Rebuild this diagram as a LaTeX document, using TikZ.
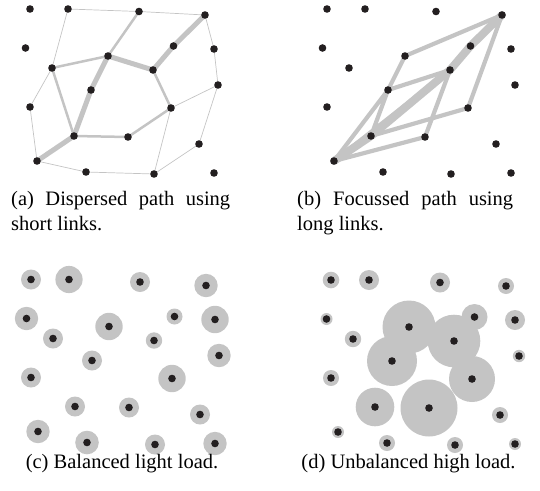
\documentclass[tikz,border=0pt]{standalone}
\usepackage{fontspec}
\setmainfont{Liberation Serif}
\definecolor{linkgray}{RGB}{196,196,196}
\definecolor{dotblack}{RGB}{35,31,32}
% site / x / y / load radius in (c) / load radius in (d)
\newcommand{\sitelist}{1/30/9/10/8.3, 2/68/9/13.6/10, 3/139/11.5/10/10,
  4/205/15/11.7/8, 5/25.5/48/11.7/6, 6/173.5/46/8/13, 7/214/49/13.7/10,
  8/108/56/13.7/26.5, 9/52/68/10/8.2, 10/153/70/8.2/26.3, 11/218/85/11.7/6.2,
  12/91/90/10/25, 13/30/107/10/8, 14/171/108/13.7/23, 15/74/136/10/19.3,
  16/128/137/10/28.5, 17/199/144/10/8, 18/37/161/11.7/6, 19/86/172/11.8/8,
  20/154/174/10/8, 21/214/173/11.7/6}

\begin{document}
\begin{tikzpicture}[x=1pt, y=-1pt]
\tikzstyle{dot}=[circle, fill=dotblack, inner sep=0pt, minimum size=7.6pt]
\tikzstyle{load}=[circle, fill=linkgray, inner sep=0pt]
\tikzstyle{spare}=[draw=linkgray, line width=0.7pt, line cap=round]
\tikzstyle{used}=[draw=linkgray, line width=2.5pt, line cap=round]
\tikzstyle{heavy}=[draw=linkgray, line width=5pt, line cap=round]
\tikzstyle{longused}=[draw=linkgray, line width=4.2pt, line cap=round]
\tikzstyle{longheavy}=[draw=linkgray, line width=8pt, line cap=round]
\tikzstyle{caption}=[inner sep=0pt, font=\fontsize{20.5}{25}\selectfont]
\useasboundingbox (0,0) rectangle (540,490);

% (a) dispersed path
\begin{scope}
  \foreach \n/\x/\y/\rc/\rd in \sitelist
    \coordinate (a\n) at (\x,\y);
  \path[spare] (a2)--(a3) (a3)--(a4) (a2)--(a9) (a4)--(a7) (a7)--(a11)
    (a9)--(a13) (a13)--(a18) (a11)--(a14) (a11)--(a17) (a14)--(a20)
    (a17)--(a20) (a18)--(a19) (a19)--(a20);
  \path[used] (a3)--(a8) (a8)--(a9) (a9)--(a15) (a15)--(a16) (a16)--(a14)
    (a14)--(a10);
  \path[heavy] (a18)--(a15) (a15)--(a12) (a12)--(a8) (a8)--(a10)
    (a10)--(a6) (a6)--(a4);
  \foreach \n/\x/\y/\rc/\rd in \sitelist
    \node[dot] (adot\n) at (a\n) {};
\end{scope}

% (b) focussed path
\begin{scope}[shift={(297,0)}]
  \foreach \n/\x/\y/\rc/\rd in \sitelist
    \coordinate (b\n) at (\x,\y);
  \path[longused] (b8)--(b4) (b8)--(b12) (b12)--(b10) (b12)--(b18)
    (b12)--(b15) (b10)--(b16) (b16)--(b18) (b15)--(b14) (b14)--(b4)
    (b18)--(b10);
  \path[longheavy] (b18)--(b15) (b15)--(b10) (b10)--(b6) (b6)--(b4);
  \foreach \n/\x/\y/\rc/\rd in \sitelist
    \node[dot] (bdot\n) at (b\n) {};
\end{scope}

% (c) balanced load
\begin{scope}[shift={(1,270.5)}]
  \foreach \n/\x/\y/\rc/\rd in \sitelist {
    \node[load, minimum size={2*\rc pt}] (cload\n) at (\x,\y) {};
    \node[dot] (cdot\n) at (\x,\y) {};
  }
\end{scope}

% (d) unbalanced load
\begin{scope}[shift={(301,271)}]
  \foreach \n/\x/\y/\rc/\rd in \sitelist
    \node[load, minimum size={2*\rd pt}] (dload\n) at (\x,\y) {};
  \foreach \n/\x/\y/\rc/\rd in \sitelist
    \node[dot] (ddot\n) at (\x,\y) {};
\end{scope}

\node[caption, anchor=base west, text width=219pt, align=justify] (capa) at (11,205)
  {(a) Dispersed path using short links.};
\node[caption, anchor=base west, text width=216pt, align=justify] (capb) at (297,205)
  {(b) Focussed path using long links.};
\node[caption, anchor=base] (capc) at (122,468) {(c) Balanced light load.};
\node[caption, anchor=base] (capd) at (408.5,468) {(d) Unbalanced high load.};
\end{tikzpicture}
\end{document}
